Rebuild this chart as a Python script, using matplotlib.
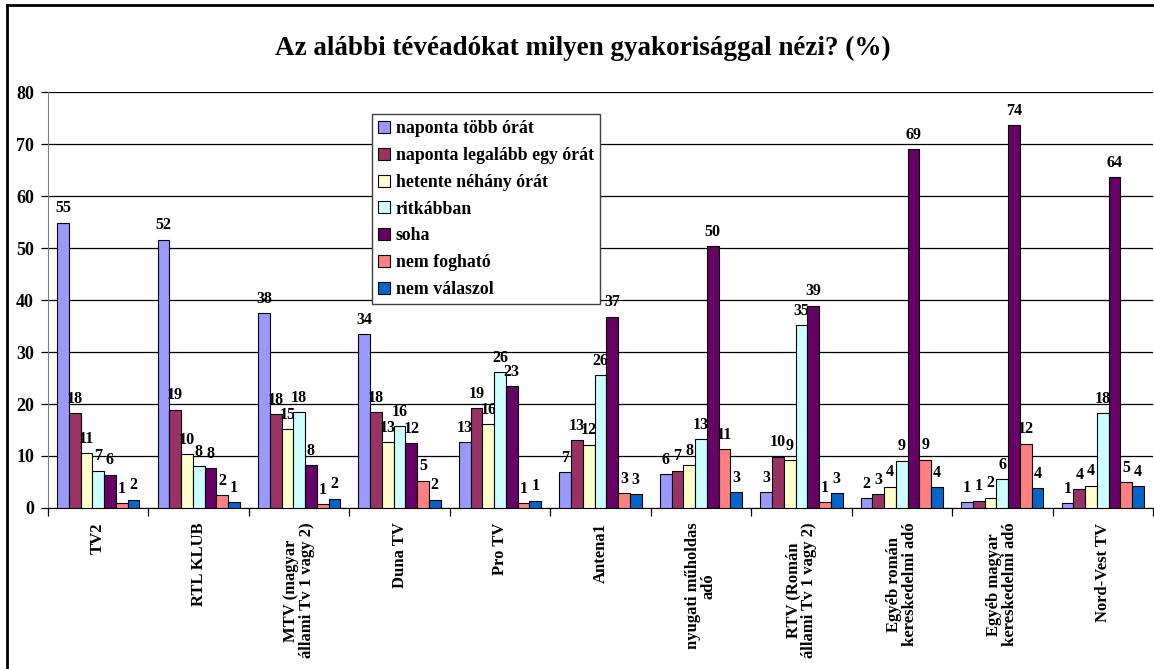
import numpy as np
import matplotlib
matplotlib.use('Agg')
import matplotlib.pyplot as plt
from matplotlib.lines import Line2D

# adatok
csatornak = ['TV2', 'RTL KLUB', 'MTV (magyar\nállami Tv 1 vagy 2)', 'Duna TV', 'Pro TV',
             'Antena1', 'nyugati műholdas\nadó', 'RTV (Román\nállami Tv 1 vagy 2)',
             'Egyéb román\nkereskedelmi adó', 'Egyéb magyar\nkereskedelmi adó', 'Nord-Vest TV']
kategoriak = ['naponta több órát', 'naponta legalább egy órát', 'hetente néhány órát',
              'ritkábban', 'soha', 'nem fogható', 'nem válaszol']

naponta_tobb = [54.9, 51.6, 37.5, 33.5, 12.7, 6.9, 6.5, 3.0, 1.9, 1.15, 1.0]
naponta_egy = [18.3, 18.9, 18.1, 18.5, 19.2, 13.1, 7.2, 9.9, 2.6, 1.4, 3.65]
hetente = [10.6, 10.4, 15.2, 12.7, 16.2, 12.2, 8.3, 9.2, 4.1, 2.0, 4.3]
ritkabban = [7.2, 8.1, 18.5, 15.7, 26.2, 25.6, 13.3, 35.1, 9.1, 5.6, 18.3]
soha = [6.4, 7.7, 8.2, 12.5, 23.4, 36.8, 50.4, 38.9, 69.0, 73.7, 63.6]
nem_foghato = [0.96, 2.5, 0.8, 5.25, 0.96, 2.9, 11.3, 1.15, 9.3, 12.4, 5.0]
nem_valaszol = [1.6, 1.2, 1.8, 1.6, 1.4, 2.7, 3.1, 2.8, 4.0, 3.8, 4.2]

sorozatok = [naponta_tobb, naponta_egy, hetente, ritkabban, soha, nem_foghato, nem_valaszol]
szinek = ['#9999FF', '#993366', '#FFFFCC', '#CCFFFF', '#660066', '#FF8080', '#0066CC']

plt.rcParams['font.family'] = ['Liberation Serif', 'DejaVu Serif']
plt.rcParams['font.weight'] = 'bold'

fig = plt.figure(figsize=(11.54, 6.69), dpi=100)
ax = fig.add_axes([48/1154, 1-508/669, 1105/1154, 416/669])

x = np.arange(len(csatornak))
w = 0.117
for i, (ertekek, szin) in enumerate(zip(sorozatok, szinek)):
    pos = x + (i - 3) * w
    rects = ax.bar(pos, ertekek, w, color=szin, edgecolor='black', linewidth=0.8,
                   label=kategoriak[i], zorder=3)
    for r, v in zip(rects, ertekek):
        ax.text(r.get_x() + r.get_width()/2, v + 1.2, '%.0f' % v, ha='center', va='bottom',
                fontsize=11.5, fontweight='bold')

ax.set_xlim(-0.5, len(csatornak) - 0.5)
ax.set_ylim(0, 80)
ax.set_yticks(range(0, 81, 10))
ax.yaxis.grid(True, color='black', linewidth=0.9, zorder=0)
ax.set_axisbelow(True)
ax.tick_params(axis='y', length=5, width=0.9, pad=5, labelsize=13)
for t in ax.get_yticklabels():
    t.set_fontweight('bold')

ax.set_xticks(np.arange(len(csatornak) + 1) - 0.5)
ax.set_xticklabels([])
ax.tick_params(axis='x', length=6, width=0.9)
for i, nev in enumerate(csatornak):
    ax.text(i, -0.035, nev, transform=ax.get_xaxis_transform(), rotation=90,
            ha='center', va='top', multialignment='center', fontsize=12,
            fontweight='bold', linespacing=1.0)

ax.spines['top'].set_visible(False)
ax.spines['right'].set_visible(False)
ax.spines['left'].set_color('#808080')
ax.spines['bottom'].set_color('black')

leg = ax.legend(loc='upper left', bbox_to_anchor=(0.293, 0.947), borderaxespad=0,
                frameon=True, fancybox=False, handlelength=0.65,
                handleheight=0.65, handletextpad=0.35, labelspacing=0.55,
                borderpad=0.35, prop={'weight': 'bold', 'size': 12.8})
leg.get_frame().set_edgecolor('#404040')
leg.get_frame().set_linewidth(1.0)
leg.get_frame().set_alpha(1)
leg.set_zorder(5)

fig.text(583/1154, 1 - 48/669, 'Az alábbi tévéadókat milyen gyakorisággal nézi? (%)',
         ha='center', va='center', fontsize=19.5, fontweight='bold')

# keret
fig.add_artist(Line2D([7/1154, 1.01], [1 - 5/669, 1 - 5/669], transform=fig.transFigure,
                      color='black', linewidth=2))
fig.add_artist(Line2D([7/1154, 7/1154], [-0.01, 1 - 5/669], transform=fig.transFigure,
                      color='black', linewidth=2))

fig.savefig('out.png', dpi=100)
